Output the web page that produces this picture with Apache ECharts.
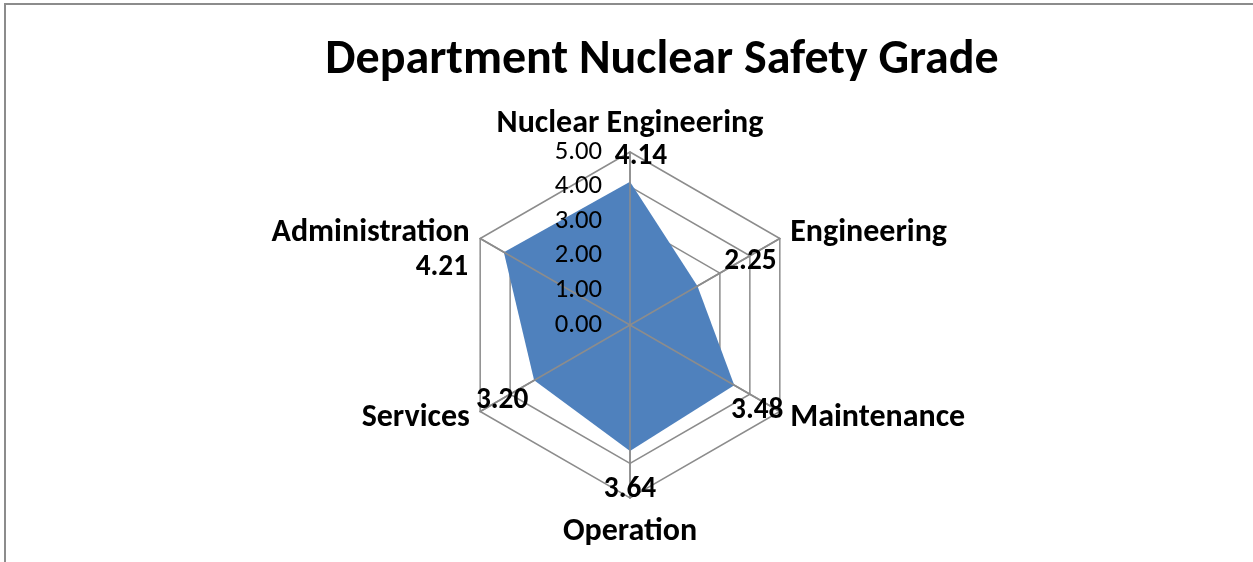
<!DOCTYPE html>
<html>
<head>
<meta charset="utf-8">
<script src="https://cdn.jsdelivr.net/npm/echarts@6/dist/echarts.min.js"></script>
<style>
html,body{margin:0;padding:0;background:#fff;}
#frame{position:absolute;left:4px;top:3px;width:1260px;height:570px;border-top:2px solid #8c8c8c;border-left:2px solid #8c8c8c;}
#main{position:absolute;left:0;top:0;width:1253px;height:562px;}
</style>
</head>
<body>
<div id="frame"></div>
<div id="main"></div>
<script>
// indicators listed counter-clockwise from the top
var departments = ['Nuclear Engineering', 'Administration', 'Services', 'Operation', 'Maintenance', 'Engineering'];
var grades = [4.14, 4.21, 3.20, 3.64, 3.48, 2.25];
var gradeMax = 5;
// label shift per vertex [dx, dy]
var labelShift = [[11, -25], [-62, 16], [-32, 20], [0, 39], [23, 25], [53, -24]];

var dom = document.getElementById('main');
var myChart = echarts.init(dom);
var font = 'Carlito, Lato, sans-serif';

var indicators = departments.map(function (d) {
    return {name: d, min: 0, max: gradeMax};
});
// top radar only carries the spokes and the tick labels
var bareIndicators = departments.map(function (d, i) {
    var ind = {name: '', min: 0, max: gradeMax};
    if (i === 0) {
        ind.axisLabel = {
            show: true,
            formatter: function (v) { return v.toFixed(2); },
            fontSize: 26.7,
            color: '#000',
            fontFamily: font,
            margin: 28
        };
    }
    return ind;
});

var rich = {};
labelShift.forEach(function (s, i) {
    rich['p' + i] = {
        fontSize: 29.3,
        fontWeight: 'bold',
        color: '#000',
        fontFamily: font,
        padding: [
            s[1] > 0 ? 2 * s[1] : 0,
            s[0] < 0 ? -2 * s[0] : 0,
            s[1] < 0 ? -2 * s[1] : 0,
            s[0] > 0 ? 2 * s[0] : 0
        ]
    };
});

var option = {
    animation: false,
    title: {
        text: 'Department Nuclear Safety Grade',
        left: 657,
        textAlign: 'center',
        top: 32,
        textStyle: {fontSize: 48, fontWeight: 'bold', color: '#000', fontFamily: font}
    },
    radar: [{
        center: [630, 325],
        radius: 173,
        startAngle: 90,
        splitNumber: 5,
        shape: 'polygon',
        indicator: indicators,
        axisName: {color: '#000', fontSize: 32, fontWeight: 'bold', fontFamily: font, padding: [6, 0, 0, 0]},
        nameGap: 12,
        axisLine: {lineStyle: {color: '#8c8c8c', width: 1.5}},
        splitLine: {lineStyle: {color: '#8c8c8c', width: 1.5}},
        splitArea: {show: false},
        axisLabel: {show: false}
    }, {
        center: [630, 325],
        radius: 173,
        startAngle: 90,
        splitNumber: 5,
        shape: 'polygon',
        z: 5,
        indicator: bareIndicators,
        axisName: {show: false},
        axisLine: {lineStyle: {color: '#8c8c8c', width: 1.5}},
        splitLine: {show: false},
        splitArea: {show: false},
        axisLabel: {show: false}
    }],
    series: [{
        type: 'radar',
        radarIndex: 0,
        z: 2,
        symbol: 'none',
        lineStyle: {width: 0},
        itemStyle: {color: '#4f81bd'},
        areaStyle: {color: '#4f81bd', opacity: 1},
        data: [{value: grades, name: 'Grade'}]
    }, {
        // same values again, only for the data labels above the spokes
        type: 'radar',
        radarIndex: 0,
        z: 8,
        symbol: 'circle',
        symbolSize: 1,
        itemStyle: {color: 'rgba(0,0,0,0)'},
        lineStyle: {width: 0, opacity: 0},
        label: {
            show: true,
            position: 'inside',
            formatter: function (p) {
                var i = p.dimensionIndex;
                var v = Array.isArray(p.value) ? p.value[i] : p.value;
                return '{p' + i + '|' + Number(v).toFixed(2) + '}';
            },
            rich: rich
        },
        data: [{value: grades, name: 'Grade'}]
    }]
};
myChart.setOption(option);
</script>
</body>
</html>
